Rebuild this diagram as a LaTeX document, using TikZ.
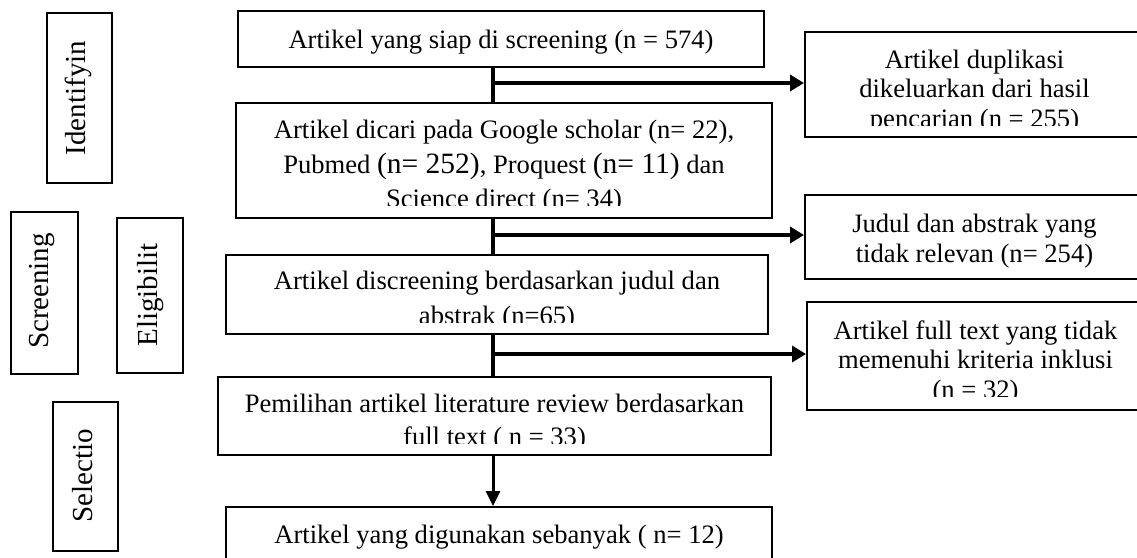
\documentclass[tikz,border=0pt]{standalone}
\usepackage{fontspec}
\setmainfont{Liberation Serif}
\usetikzlibrary{arrows.meta}
\begin{document}
\begin{tikzpicture}[x=1pt,y=-1pt,
  box/.style={draw, line width=2pt, inner sep=0pt},
  txt/.style={anchor=base, inner sep=0pt, font=\fontsize{26.6}{32}\selectfont},
  side/.style={anchor=base, inner sep=0pt, rotate=90, font=\fontsize{29}{34}\selectfont},
  conn/.style={line width=4pt},
  harr/.style={line width=4pt, -{Triangle[length=14pt,width=16pt]}},
  varr/.style={line width=3pt, -{Triangle[length=15pt,width=14pt]}},
  big/.style={}
]
\fill[white] (0,0) rectangle (1137,557);
\clip (0,0) rectangle (1137,557);

% left stage boxes
\node[box, minimum width=65pt, minimum height=170pt] (sIdent) at (79.5,98) {};
\node[box, minimum width=67pt, minimum height=162pt] (sScreen) at (44.5,293) {};
\node[box, minimum width=66pt, minimum height=155pt] (sElig) at (150,295.5) {};
\node[box, minimum width=65pt, minimum height=149pt] (sSel) at (85.5,476.5) {};
\node[side] (lIdent) at (85,98) {Identifyin};
\node[side] (lScreen) at (48,291) {Screening};
\node[side] (lElig) at (157,295) {Eligibilit};
\node[side] (lSel) at (92,475.5) {Selectio};

% main boxes
\node[box, minimum width=526pt, minimum height=56pt] (b1) at (501,39) {};
\node[box, minimum width=536pt, minimum height=115pt] (b2) at (504,160.5) {};
\node[box, minimum width=542pt, minimum height=79pt] (b3) at (497,294.5) {};
\node[box, minimum width=553pt, minimum height=78pt] (b4) at (494.5,416) {};
\node[box, minimum width=546pt, minimum height=68pt] (b5) at (499,541) {};

% right boxes
\node[box, minimum width=339pt, minimum height=105pt] (r1) at (974.5,84.5) {};
\node[box, minimum width=339pt, minimum height=84pt] (r2) at (974.5,237) {};
\node[box, minimum width=337pt, minimum height=108pt] (r3) at (975.5,356) {};

% texts
\node[txt] (t1) at (501,48) {Artikel yang siap di screening (n = 574)};
\begin{scope}
\clip (236,103) rectangle (772,205);
\node[txt] (t2a) at (504,138) {Artikel dicari pada Google scholar (n= 22),};
\node[txt] (t2b) at (504,173) {Pubmed {\fontsize{29.5}{32}\selectfont(n= 252)}, Proquest {\fontsize{29.5}{32}\selectfont(n= 11)} dan};
\node[txt] (t2c) at (504,207) {Science direct (n= 34)};
\end{scope}
\begin{scope}
\clip (226,255) rectangle (768,322);
\node[txt] (t3a) at (497,289) {Artikel discreening berdasarkan judul dan};
\node[txt] (t3b) at (497,324) {abstrak (n=65)};
\end{scope}
\begin{scope}
\clip (218,377) rectangle (771,443);
\node[txt] (t4a) at (494.5,412) {Pemilihan artikel literature review berdasarkan};
\node[txt] (t4b) at (494.5,445) {full text ( n = 33)};
\end{scope}
\node[txt] (t5) at (499,543) {Artikel yang digunakan sebanyak ( n= 12)};

\begin{scope}
\clip (805,32) rectangle (1144,125);
\node[txt] (tr1a) at (974.5,68) {Artikel duplikasi};
\node[txt] (tr1b) at (974.5,97) {dikeluarkan dari hasil};
\node[txt] (tr1c) at (974.5,127) {pencarian (n = 255)};
\end{scope}
\node[txt] (tr2a) at (974.5,232) {Judul dan abstrak yang};
\node[txt] (tr2b) at (974.5,262) {tidak relevan (n= 254)};
\begin{scope}
\clip (807,302) rectangle (1144,396);
\node[txt] (tr3a) at (975.5,339) {Artikel full text yang tidak};
\node[txt] (tr3b) at (975.5,368) {memenuhi kriteria inklusi};
\node[txt] (tr3c) at (975.5,398) {(n = 32)};
\end{scope}

% connectors
\coordinate (j1) at (493,83);
\coordinate (j2) at (493,235);
\coordinate (j3) at (493,354);
\draw[conn] (j1 |- b1.south) -- (j1 |- b2.north);
\draw[conn] (j2 |- b2.south) -- (j2 |- b3.north);
\draw[conn] (j3 |- b3.south) -- (j3 |- b4.north);
\draw[varr] (j3 |- b4.south) -- (j3 |- b5.north);
\draw[harr] (j1) -- (j1 -| r1.west);
\draw[harr] (j2) -- (j2 -| r2.west);
\draw[harr] (j3) -- (j3 -| r3.west);
\end{tikzpicture}
\end{document}
